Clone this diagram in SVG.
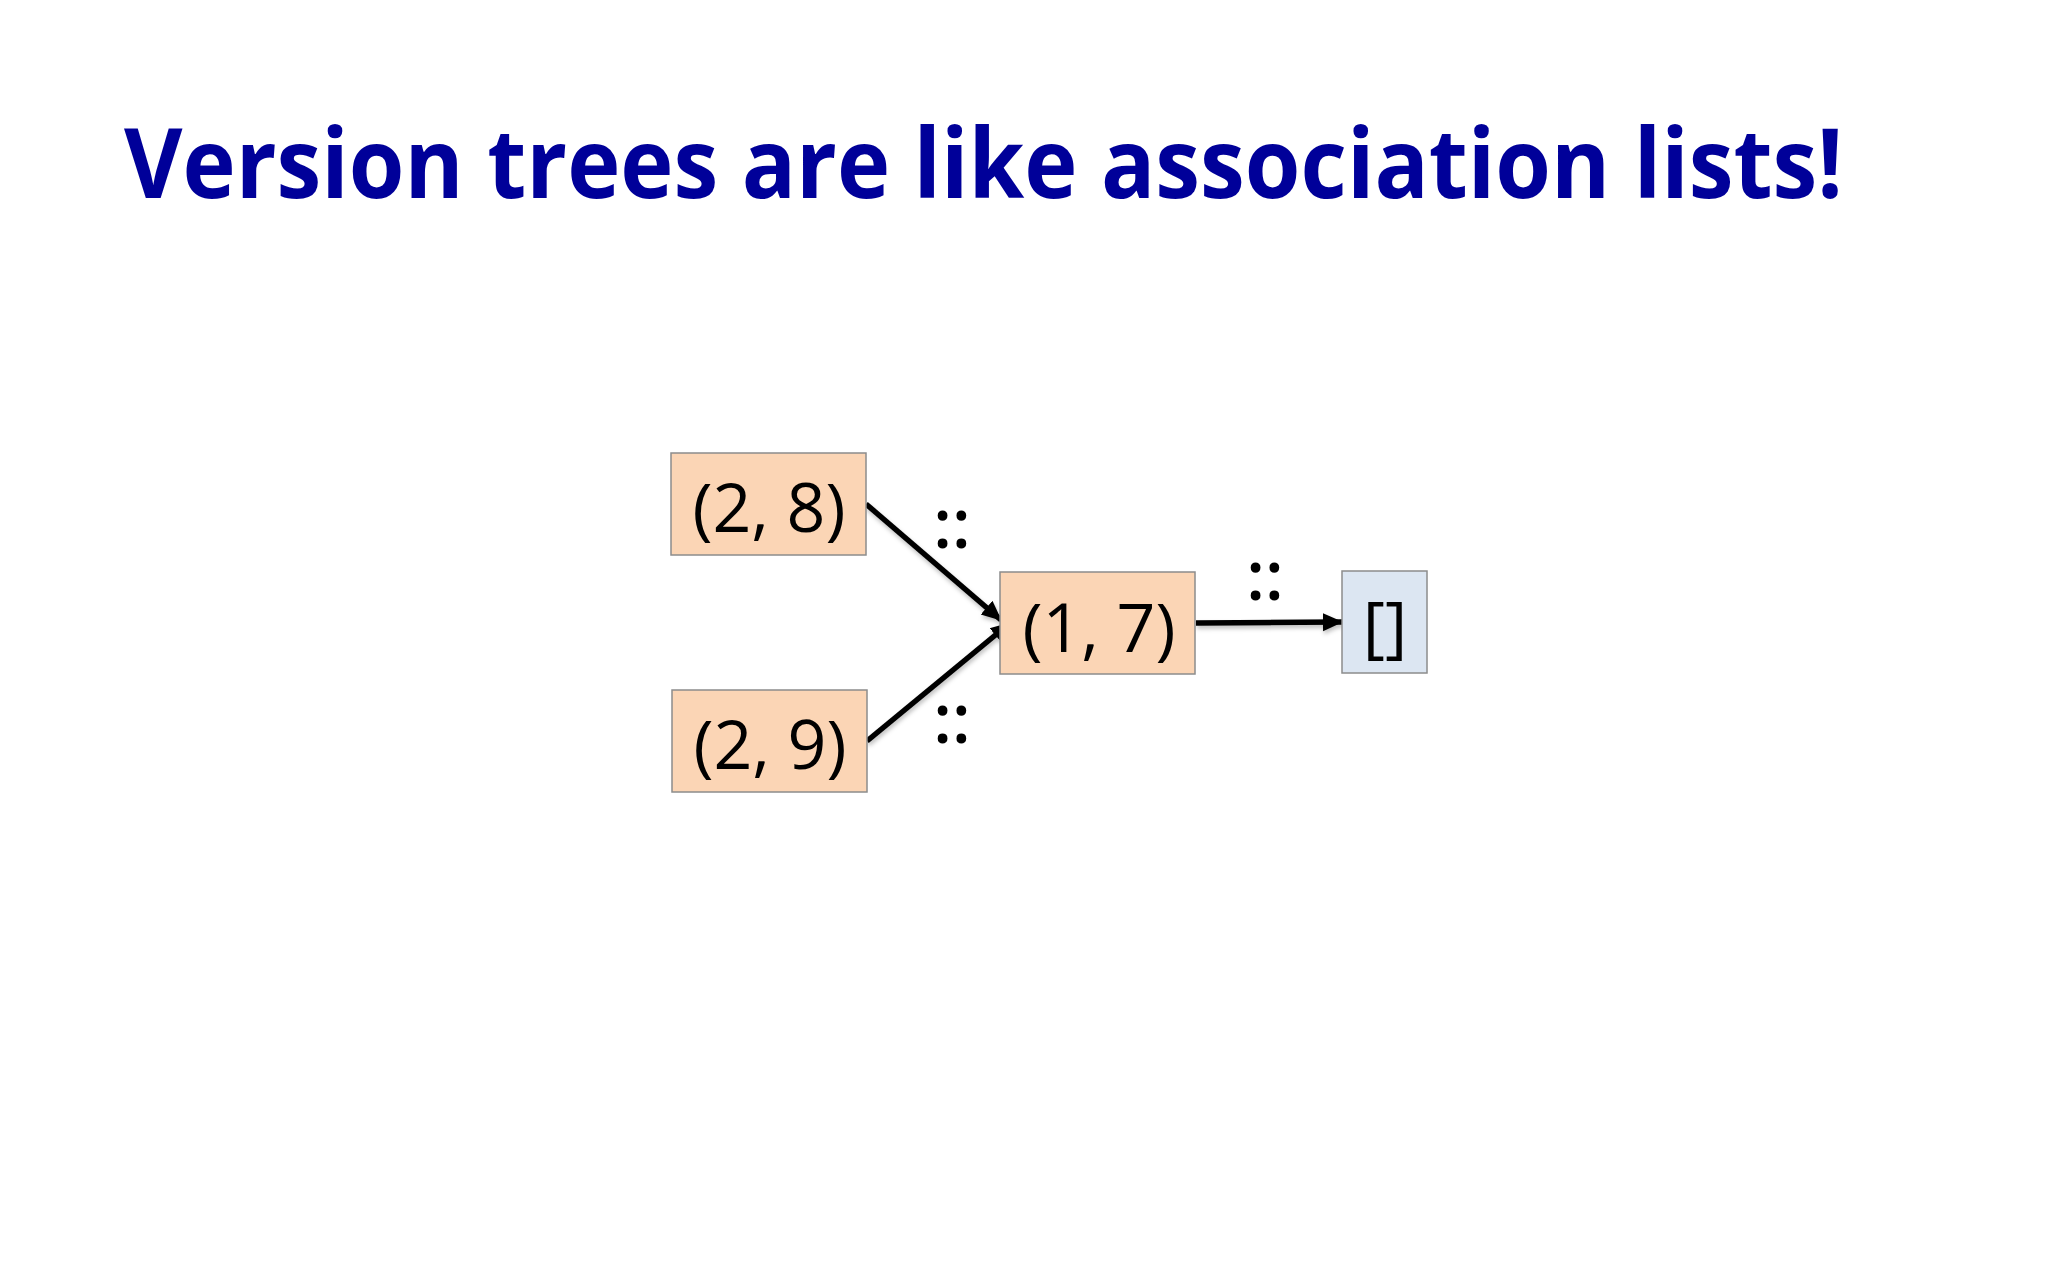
<svg xmlns="http://www.w3.org/2000/svg" width="2048" height="1280" viewBox="0 0 2048 1280">
<style>
.title{font-family:"Open Sans","Noto Sans",sans-serif;font-weight:bold;font-size:96px;fill:#000099}
.box{fill:#FBD5B5;stroke:#8C8C8C;stroke-width:1.5}
.nil{fill:#DCE6F2;stroke:#8C8C8C;stroke-width:1.5}
.lbl{font-family:"Open Sans","Noto Sans",sans-serif;font-size:68px;fill:#000;text-anchor:middle}
.cons{font-family:"Open Sans","Noto Sans",sans-serif;font-size:68px;font-weight:600;fill:#000;text-anchor:middle}
.edge{stroke:#000;stroke-width:5.5;fill:none;marker-end:url(#ah)}
</style>
<defs>
<marker id="ah" viewBox="0 0 20 20" refX="19" refY="10" markerWidth="20" markerHeight="20" markerUnits="userSpaceOnUse" orient="auto">
<path d="M0,1 L20,10 L0,19 z" fill="#000"/>
</marker>
<filter id="sh" x="-10%" y="-10%" width="120%" height="140%">
<feDropShadow dx="1" dy="3" stdDeviation="2" flood-color="#000" flood-opacity="0.25"/>
</filter>
</defs>
<rect width="2048" height="1280" fill="#fff"/>
<text class="title" x="124" y="198" textLength="1719" lengthAdjust="spacingAndGlyphs">Version trees are like association lists!</text>
<g id="connectors" filter="url(#sh)">
<line class="edge" x1="866" y1="504" x2="1001" y2="620"/>
<line class="edge" x1="867" y1="741" x2="1010" y2="623"/>
<line class="edge" x1="1196" y1="623" x2="1342" y2="622"/>
</g>
<g id="label-cons-1"><text class="cons" x="952" y="548">::</text></g>
<g id="label-cons-2"><text class="cons" x="952" y="743">::</text></g>
<g id="label-cons-3"><text class="cons" x="1265" y="600">::</text></g>
<g id="node-2-8"><rect class="box" x="671" y="453" width="195" height="102"/><text class="lbl" x="769" y="532">(2, 8)</text></g>
<g id="node-2-9"><rect class="box" x="672" y="690" width="195" height="102"/><text class="lbl" x="770" y="769">(2, 9)</text></g>
<g id="node-1-7"><rect class="box" x="1000" y="572" width="195" height="102"/><text class="lbl" x="1099" y="652">(1, 7)</text></g>
<g id="node-nil"><rect class="nil" x="1342" y="571" width="85" height="102"/><text class="lbl" x="1385" y="650">[]</text></g>
</svg>
